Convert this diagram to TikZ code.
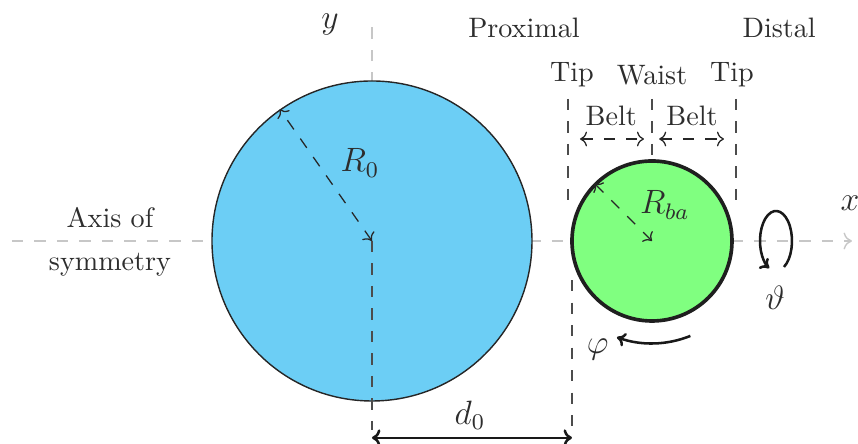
\documentclass[tikz,border=0pt]{standalone}
\usetikzlibrary{arrows.meta}
\definecolor{bigfill}{RGB}{108,206,245}
\definecolor{smallfill}{RGB}{128,255,128}
\definecolor{txt}{RGB}{45,45,45}
\begin{document}
\begin{tikzpicture}[
  txtlbl/.style={text=txt,inner sep=1pt},
  mathlbl/.style={text=txt,inner sep=1pt,font=\large},
  axisline/.style={draw=black!22,dashed,line width=0.5pt,dash pattern=on 4pt off 4pt},
  guide/.style={draw=black!70,dashed,line width=0.5pt,dash pattern=on 4pt off 4pt},
  radarrow/.style={draw=black!85,dashed,line width=0.45pt,dash pattern=on 4pt off 4pt,{To[length=2.5pt]}-{To[length=2.5pt]}},
  rotarrow/.style={draw=black!90,line width=0.9pt,-{To[length=3pt,width=5pt]}},
]
\useasboundingbox (-4.65,-2.5375) rectangle (6.075,3.0125);
% reference points
\coordinate (O) at (0,0);
\coordinate (C) at (3.5,0);
\coordinate (xstart) at (-4.5,0);
\coordinate (xend) at (6.0,0);
\coordinate (ytop) at (0,2.8);
% axes
\draw[axisline,-{To[length=3pt,width=6pt]}] (xstart) -- (xend);
\draw[axisline] (O) -- (ytop);
% circles
\node[circle,draw=black!85,line width=0.5pt,fill=bigfill,minimum size=4cm,inner sep=0pt] (big) at (O) {};
\node[circle,draw=black!88,line width=1.3pt,fill=smallfill,minimum size=2cm,inner sep=0pt] (small) at (C) {};
% radii
\draw[radarrow] (O) -- (big.125);
\draw[radarrow] (C) -- (small.135);
% vertical guides
\coordinate (lowtopL) at (0,-2.36);
\coordinate (lowtopR0) at (2.5,-0.49);
\coordinate (lowtopR) at (2.5,-2.36);
\draw[guide] (O) -- (lowtopL);
\draw[guide] (lowtopR0) -- (lowtopR);
\coordinate (tipLt) at (2.45,1.775);
\coordinate (tipLb) at (2.45,0.4875);
\coordinate (waistT) at (3.5,1.775);
\coordinate (tipRt) at (4.55,1.775);
\coordinate (tipRb) at (4.55,0.4875);
\draw[guide] (tipLt) -- (tipLb);
\draw[guide] (waistT) -- (small.north);
\draw[guide] (tipRt) -- (tipRb);
% belt arrows
\coordinate (b1a) at (2.6,1.275);
\coordinate (b1b) at (3.4,1.275);
\coordinate (b2a) at (3.59,1.275);
\coordinate (b2b) at (4.4,1.275);
\draw[radarrow] (b1a) -- (b1b);
\draw[radarrow] (b2a) -- (b2b);
% d0 arrow
\coordinate (d0a) at (0,-2.46);
\coordinate (d0b) at (2.5,-2.46);
\draw[draw=black!90,line width=0.9pt,{To[length=3pt,width=6pt]}-{To[length=3pt,width=6pt]}] (d0a) -- (d0b);
% rotation arrows
\draw[rotarrow] (5.05,0) ++(-60:0.2 and 0.375) arc[start angle=-60,end angle=245,x radius=0.2,y radius=0.375];
\draw[rotarrow] (C) ++(-68:1.28) arc[start angle=-68,end angle=-110,radius=1.28];
% labels
\node[txtlbl] (prox) at (1.9,2.66) {Proximal};
\node[txtlbl] (dist) at (5.09,2.66) {Distal};
\node[txtlbl] (tip1) at (2.5,2.075) {Tip};
\node[txtlbl] (waist) at (3.5,2.075) {Waist};
\node[txtlbl] (tip2) at (4.5,2.075) {Tip};
\node[txtlbl] (belt1) at (2.99,1.56) {Belt};
\node[txtlbl] (belt2) at (4.0,1.56) {Belt};
\node[txtlbl] (axis1) at (-3.275,0.29) {Axis of};
\node[txtlbl] (axis2) at (-3.275,-0.3) {symmetry};
\node[mathlbl] (ylbl) at (-0.525,2.7) {$y$};
\node[mathlbl] (xlbl) at (5.975,0.475) {$x$};
\node[mathlbl] (R0) at (-0.15,0.975) {$R_0$};
\node[mathlbl] (Rba) at (3.66,0.45) {$R_{ba}$};
\node[mathlbl] (d0) at (1.225,-2.175) {$d_0$};
\node[mathlbl] (theta) at (5.04,-0.71) {$\vartheta$};
\node[mathlbl] (phi) at (2.82,-1.36) {$\varphi$};
\end{tikzpicture}
\end{document}
